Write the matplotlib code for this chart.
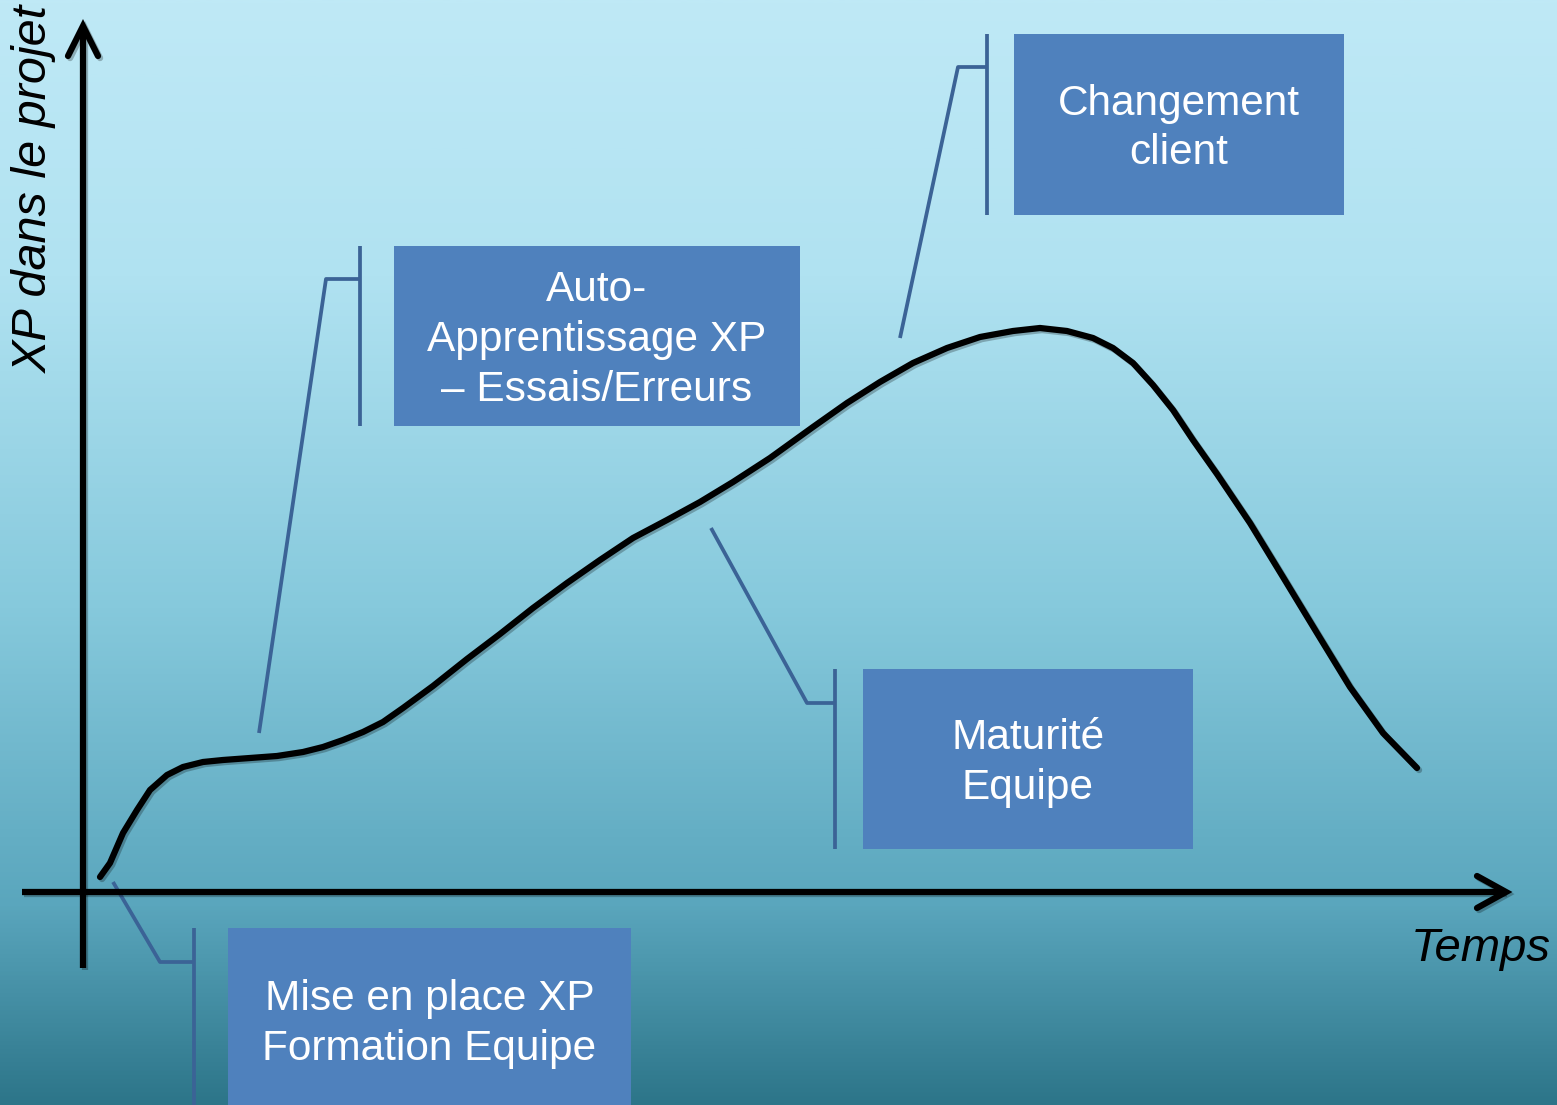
import matplotlib.pyplot as plt
import matplotlib.patheffects as pe
import numpy as np
from matplotlib.colors import LinearSegmentedColormap

# curve: time vs XP (origin at the axes crossing)
temps = [17, 27, 40, 54, 67, 84, 100, 120, 140, 167, 194, 220, 240, 260, 280,
         300, 320, 350, 384, 417, 450, 484, 517, 550, 584, 617, 650, 687,
         730, 764, 797, 830, 864, 897, 930, 957, 984, 1010, 1030, 1050, 1070,
         1090, 1110, 1134, 1167, 1200, 1234, 1267, 1300, 1334]
xp = [15, 29, 59, 82, 102, 117, 125, 130, 132, 134, 136, 140, 145, 152, 160,
      170, 184, 206, 233, 258, 284, 309, 332, 354, 372, 390, 410, 434,
      465, 489, 510, 529, 544, 555, 561, 564, 561, 554, 544, 529, 507,
      482, 452, 418, 369, 315, 259, 205, 159, 124]

# callouts: text, box (left, top, right, bottom), bracket x, knee, target on curve
labels = ['Mise en place XP\nFormation Equipe',
          'Auto-\nApprentissage XP\n– Essais/Erreurs',
          'Changement\nclient',
          'Maturité\nEquipe']
boxes = [(145, -36, 548, -220), (311, 646, 717, 466), (931, 858, 1261, 677), (780, 223, 1110, 43)]
bracket_x = [111, 277, 904, 752]
knees = [(77, -70), (243, 613), (875, 825), (724, 189)]
targets = [(30, 10), (176, 159), (817, 554), (628, 364)]

W, H = 1557, 1105
fig = plt.figure(figsize=(W / 100, H / 100), dpi=100)
ax = fig.add_axes([0, 0, 1, 1])
ax.set_xlim(-83, W - 83)
ax.set_ylim(892 - H, 892)
ax.axis('off')

# background gradient
cmap = LinearSegmentedColormap.from_list('bg', [
    (0.0, '#2d7589'), (0.18, '#5aa6bd'), (0.45, '#86c9dc'),
    (0.75, '#b0e2f1'), (1.0, '#bfe9f6')])
grad = np.linspace(0, 1, 512).reshape(-1, 1)
ax.imshow(grad, cmap=cmap, aspect='auto', origin='lower',
          extent=[-83, W - 83, 892 - H, 892], zorder=0)

shadow = [pe.SimpleLineShadow(offset=(1.5, -1.5), alpha=0.25), pe.Normal()]

# axes with open arrow heads
lw_ax = 4.5
ax.plot([0, 0], [-76, 865], color='black', lw=lw_ax, solid_capstyle='butt',
        zorder=3, path_effects=shadow)
ax.plot([-15, 0, 15], [836, 866, 836], color='black', lw=lw_ax,
        solid_capstyle='round', solid_joinstyle='miter', zorder=3, path_effects=shadow)
ax.plot([-61, 1422], [0, 0], color='black', lw=lw_ax, solid_capstyle='butt',
        zorder=3, path_effects=shadow)
ax.plot([1394, 1423, 1394], [16, 0, -16], color='black', lw=lw_ax,
        solid_capstyle='round', solid_joinstyle='miter', zorder=3, path_effects=shadow)

ax.text(-49, 887, 'XP dans le projet', rotation=90, ha='center', va='top',
        fontsize=35, style='italic', family='Liberation Sans', zorder=4)
ax.text(1468, -57, 'Temps', ha='right', va='center',
        fontsize=34, style='italic', family='Liberation Sans', zorder=4)

# curve
ax.plot(temps, xp, color='black', lw=4.5, solid_capstyle='round',
        solid_joinstyle='round', zorder=3, path_effects=shadow)

# callouts
for lab, (l, t, r, b), bx, (kx, ky), (tx, ty) in zip(labels, boxes, bracket_x, knees, targets):
    ax.add_patch(plt.Rectangle((l, b), r - l, t - b, facecolor='#4f81bd',
                               edgecolor='none', zorder=2))
    ax.text((l + r) / 2, (t + b) / 2 - 4, lab, ha='center', va='center', color='white',
            fontsize=30.5, family='Liberation Sans', linespacing=1.32, zorder=4)
    ax.plot([bx, bx], [t, b], color='#3b6396', lw=2.7, solid_capstyle='butt', zorder=2)
    ax.plot([bx, kx, tx], [ky, ky, ty], color='#3b6396', lw=2.7,
            solid_capstyle='butt', zorder=2)

fig.savefig('out.png', dpi=100)
